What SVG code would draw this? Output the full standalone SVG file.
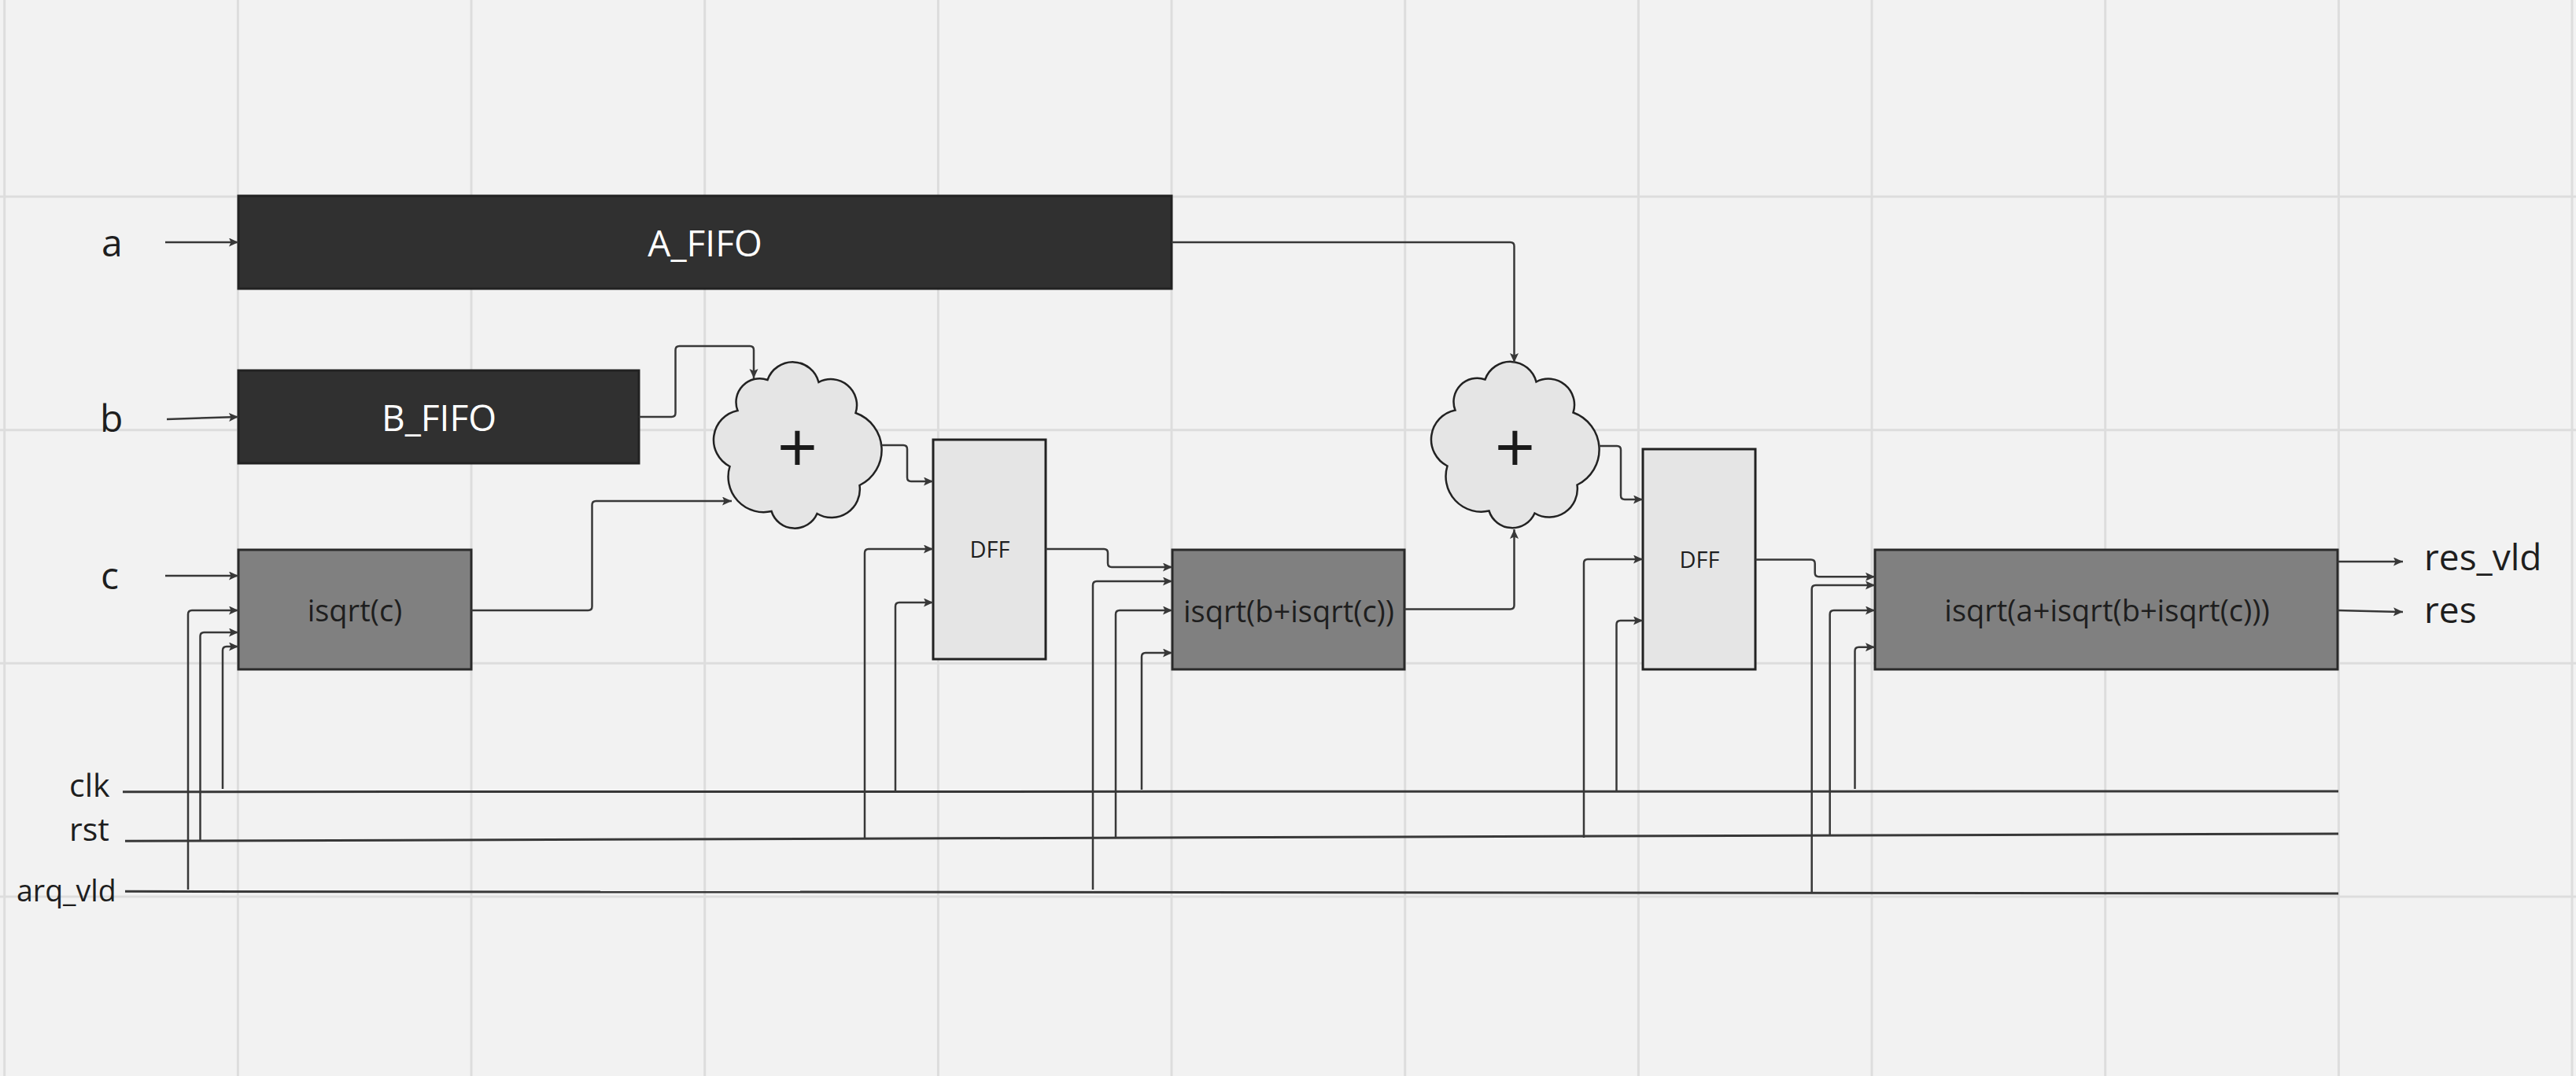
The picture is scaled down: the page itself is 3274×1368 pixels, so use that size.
<svg xmlns="http://www.w3.org/2000/svg" width="3274" height="1368" viewBox="0 0 3274 1368">
  <defs>
    <style>
      .grid { stroke: #dddddd; stroke-width: 3; fill: none; }
      .fifo { fill: #303030; stroke: #222222; stroke-width: 3; }
      .calc { fill: #808080; stroke: #2a2a2a; stroke-width: 3; }
      .dff { fill: #e5e5e5; stroke: #222222; stroke-width: 3; }
      .cloud { fill: #e5e5e5; stroke: #222222; stroke-width: 2.5; }
      .wire { fill: none; stroke: #383838; stroke-width: 2.5; marker-end: url(#arrow); }
      .bus { fill: none; stroke: #383838; stroke-width: 3; }
      text { font-family: "Open Sans", "Noto Sans", "Liberation Sans", sans-serif; fill: #1e1e1e; }
      .sig { font-size: 48px; }
      .ctl { font-size: 41px; }
      .ctl-long { font-size: 37.5px; }
      .out { font-size: 46px; }
      .fifo-label { font-size: 46px; fill: #ffffff; text-anchor: middle; }
      .calc-label { font-size: 38px; text-anchor: middle; }
      .dff-label { font-size: 29px; text-anchor: middle; }
      .plus { font-size: 90px; text-anchor: middle; fill: #1a1a1a; }
    </style>
    <marker id="arrow" markerUnits="userSpaceOnUse" markerWidth="14" markerHeight="12" refX="12" refY="5.5" orient="auto">
      <path d="M0,0 L12,5.5 L0,11 L2.5,5.5 z" fill="#383838"/>
    </marker>
    <!-- adder cloud outline, centred on the origin -->
    <path id="cloudShape" d="M-38,-84 A34,34 0 0 1 27,-81 A33,33 0 0 1 74,-42 A50,50 0 0 1 79,50 A36,36 0 0 1 25,86 A31,31 0 0 1 -33,83 A45,45 0 0 1 -86,26 A38,38 0 0 1 -76,-45 A30,30 0 0 1 -38,-84 Z"/>
  </defs>

  <!-- canvas background and grid -->
  <rect x="0" y="0" width="3274" height="1368" fill="#f2f2f2"/>
  <g id="grid" class="grid">
    <line x1="5.7" y1="0" x2="5.7" y2="1368"/>
    <line x1="302.4" y1="0" x2="302.4" y2="1368"/>
    <line x1="599" y1="0" x2="599" y2="1368"/>
    <line x1="895.7" y1="0" x2="895.7" y2="1368"/>
    <line x1="1192.4" y1="0" x2="1192.4" y2="1368"/>
    <line x1="1489" y1="0" x2="1489" y2="1368"/>
    <line x1="1785.7" y1="0" x2="1785.7" y2="1368"/>
    <line x1="2082.4" y1="0" x2="2082.4" y2="1368"/>
    <line x1="2379" y1="0" x2="2379" y2="1368"/>
    <line x1="2675.7" y1="0" x2="2675.7" y2="1368"/>
    <line x1="2972.4" y1="0" x2="2972.4" y2="1368"/>
    <line x1="3269" y1="0" x2="3269" y2="1368"/>
    <line x1="0" y1="250" x2="3274" y2="250"/>
    <line x1="0" y1="546.7" x2="3274" y2="546.7"/>
    <line x1="0" y1="843.3" x2="3274" y2="843.3"/>
    <line x1="0" y1="1140" x2="3274" y2="1140"/>
  </g>

  <!-- signal names -->
  <g id="signal-labels">
    <text class="sig" x="129" y="326">a</text>
    <text class="sig" x="127" y="549">b</text>
    <text class="sig" x="128" y="749">c</text>
    <text class="ctl" x="88" y="1013">clk</text>
    <text class="ctl" x="88" y="1069">rst</text>
    <text class="ctl-long" x="21" y="1146">arq_vld</text>
    <text class="out" x="3081" y="725">res_vld</text>
    <text class="out" x="3081" y="792">res</text>
  </g>

  <!-- control buses -->
  <g id="buses" class="bus">
    <line x1="156" y1="1006.7" x2="2972" y2="1006"/>
    <line x1="159" y1="1069.3" x2="2972" y2="1060"/>
    <line x1="159" y1="1133.3" x2="2972" y2="1136"/>
  </g>

  <!-- nodes -->
  <g id="a-fifo">
    <rect class="fifo" x="303" y="249" width="1186" height="118"/>
    <text class="fifo-label" x="896" y="326">A_FIFO</text>
  </g>
  <g id="b-fifo">
    <rect class="fifo" x="303" y="471" width="509" height="118"/>
    <text class="fifo-label" x="558" y="548">B_FIFO</text>
  </g>
  <g id="isqrt-c">
    <rect class="calc" x="303" y="699" width="296" height="152"/>
    <text class="calc-label" x="451" y="790">isqrt(c)</text>
  </g>
  <g id="adder-1">
    <use href="#cloudShape" class="cloud" x="1013.5" y="567"/>
    <text class="plus" x="1013.5" y="601">+</text>
  </g>
  <g id="dff-1">
    <rect class="dff" x="1186" y="559" width="143" height="279"/>
    <text class="dff-label" x="1258" y="709">DFF</text>
  </g>
  <g id="isqrt-b">
    <rect class="calc" x="1490" y="699" width="295" height="152"/>
    <text class="calc-label" x="1638" y="791">isqrt(b+isqrt(c))</text>
  </g>
  <g id="adder-2">
    <use href="#cloudShape" class="cloud" x="1925.5" y="566.5"/>
    <text class="plus" x="1925.5" y="601">+</text>
  </g>
  <g id="dff-2">
    <rect class="dff" x="2088" y="571" width="143" height="280"/>
    <text class="dff-label" x="2160" y="722">DFF</text>
  </g>
  <g id="isqrt-a">
    <rect class="calc" x="2383" y="699" width="588" height="152"/>
    <text class="calc-label" x="2678" y="790">isqrt(a+isqrt(b+isqrt(c)))</text>
  </g>

  <!-- connectors -->
  <g id="connectors">
    <path class="wire" d="M210,308 H303"/>
    <path class="wire" d="M212,533 L303,530"/>
    <path class="wire" d="M210,732 H303"/>

    <path class="wire" d="M239,1131 V781 Q239,776 244,776 H303"/>
    <path class="wire" d="M254.5,1068 V809 Q254.5,804 259.5,804 H303"/>
    <path class="wire" d="M283,1003 V827 Q283,822 288,822 H303"/>

    <path class="wire" d="M812,530 H853.5 Q858.5,530 858.5,525 V445 Q858.5,440 863.5,440 H953 Q958,440 958,445 V481"/>
    <path class="wire" d="M599,776 H747.5 Q752.5,776 752.5,771 V642 Q752.5,637 757.5,637 H930"/>

    <path class="wire" d="M1120,566 H1148 Q1153,566 1153,571 V607 Q1153,612 1158,612 H1186"/>
    <path class="wire" d="M1099,1066 V703 Q1099,698 1104,698 H1186"/>
    <path class="wire" d="M1138,1006 V771 Q1138,766 1143,766 H1186"/>

    <path class="wire" d="M1329,698 H1403 Q1408,698 1408,703 V716 Q1408,721 1413,721 H1490"/>
    <path class="wire" d="M1389,1131 V744 Q1389,739 1394,739 H1490"/>
    <path class="wire" d="M1418,1065 V781 Q1418,776 1423,776 H1490"/>
    <path class="wire" d="M1451,1004 V835 Q1451,830 1456,830 H1490"/>

    <path class="wire" d="M1785,774.5 H1919.5 Q1924.5,774.5 1924.5,769.5 V673"/>
    <path class="wire" d="M1489,308 H1919.5 Q1924.5,308 1924.5,313 V461"/>

    <path class="wire" d="M2032,567 H2055 Q2060,567 2060,572 V630 Q2060,635 2065,635 H2088"/>
    <path class="wire" d="M2013,1065 V716 Q2013,711 2018,711 H2088"/>
    <path class="wire" d="M2054.5,1006 V794 Q2054.5,789 2059.5,789 H2088"/>

    <path class="wire" d="M2231,711.5 H2301.7 Q2306.7,711.5 2306.7,716.5 V728.3 Q2306.7,733.3 2311.7,733.3 H2383"/>
    <path class="wire" d="M2302.7,1134 V749 Q2302.7,744 2307.7,744 H2383"/>
    <path class="wire" d="M2325.7,1062 V781 Q2325.7,776 2330.7,776 H2383"/>
    <path class="wire" d="M2357.5,1003 V827.7 Q2357.5,822.7 2362.5,822.7 H2383"/>

    <path class="wire" d="M2971,714 H3054"/>
    <path class="wire" d="M2971,776 L3054,778"/>
  </g>
</svg>
